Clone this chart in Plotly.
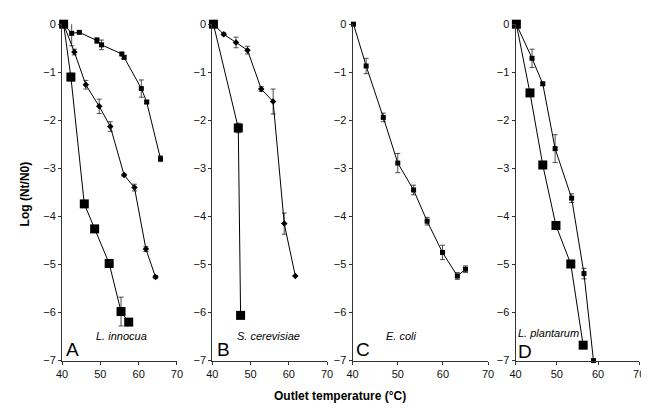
import plotly.graph_objects as go

# ---------------- data ----------------
# Panel A: L. innocua
a1_x = [40.4, 42.5, 44.5, 49.1, 50.3, 55.6, 56.2, 60.7, 62.1, 65.7]
a1_y = [0.0, -0.19, -0.17, -0.34, -0.43, -0.62, -0.69, -1.34, -1.62, -2.80]
a1_e = [0.0, 0.26, 0.0, 0.06, 0.10, 0.03, 0.03, 0.18, 0.03, 0.06]
a2_x = [40.4, 43.2, 46.2, 49.7, 52.6, 56.2, 58.9, 61.9, 64.4]
a2_y = [0.0, -0.58, -1.26, -1.71, -2.13, -3.14, -3.40, -4.68, -5.26]
a2_e = [0.0, 0.06, 0.09, 0.15, 0.10, 0.02, 0.07, 0.05, 0.03]
a3_x = [40.4, 42.3, 45.8, 48.5, 52.3, 55.4, 57.4]
a3_y = [0.0, -1.10, -3.74, -4.26, -4.98, -5.98, -6.20]
a3_e = [0.0, 0.08, 0.0, 0.06, 0.03, 0.30, 0.0]

# Panel B: S. cerevisiae
b1_x = [40.3, 43.0, 46.2, 49.2, 52.8, 55.9, 58.8, 61.7]
b1_y = [0.0, -0.21, -0.38, -0.54, -1.35, -1.61, -4.15, -5.24]
b1_e = [0.0, 0.03, 0.11, 0.08, 0.05, 0.26, 0.22, 0.0]
b2_x = [40.3, 46.8, 47.4]
b2_y = [0.0, -2.16, -6.06]
b2_e = [0.0, 0.10, 0.0]

# Panel C: E. coli
c1_x = [40.2, 43.0, 46.8, 50.0, 53.5, 56.5, 59.9, 63.2, 65.0]
c1_y = [0.0, -0.87, -1.94, -2.89, -3.45, -4.10, -4.75, -5.24, -5.10]
c1_e = [0.0, 0.16, 0.09, 0.20, 0.10, 0.08, 0.15, 0.07, 0.07]

# Panel D: L. plantarum
d1_x = [40.2, 44.0, 46.6, 49.6, 53.6, 56.6, 58.9]
d1_y = [0.0, -0.71, -1.24, -2.59, -3.62, -5.19, -7.0]
d1_e = [0.0, 0.19, 0.03, 0.29, 0.09, 0.11, 0.0]
d2_x = [40.2, 43.5, 46.6, 49.8, 53.4, 56.4]
d2_y = [0.0, -1.43, -2.93, -4.19, -4.99, -6.68]
d2_e = [0.0, 0.04, 0.06, 0.0, 0.03, 0.0]

x_ticks = [40, 50, 60, 70]
y_ticks = [0, -1, -2, -3, -4, -5, -6, -7]
panel_letters = ["A", "B", "C", "D"]
species = ["L. innocua", "S. cerevisiae", "E. coli", "L. plantarum"]

# ---------------- layout geometry ----------------
W, H = 649, 410
px_domains = [(49, 166), (202, 319), (345, 483), (511, 637)]
y_top, y_bot = 10.5, 357

fig = go.Figure()

series = [
    (1, a1_x, a1_y, a1_e, "square", 5),
    (1, a2_x, a2_y, a2_e, "diamond", 5),
    (1, a3_x, a3_y, a3_e, "square", 9),
    (2, b1_x, b1_y, b1_e, "diamond", 5),
    (2, b2_x, b2_y, b2_e, "square", 9),
    (3, c1_x, c1_y, c1_e, "square", 5),
    (4, d1_x, d1_y, d1_e, "square", 5),
    (4, d2_x, d2_y, d2_e, "square", 9),
]

for idx, xs, ys, es, sym, size in series:
    sfx = "" if idx == 1 else str(idx)
    fig.add_trace(go.Scatter(
        x=xs, y=ys, mode="lines+markers",
        xaxis="x" + sfx, yaxis="y" + sfx,
        line=dict(color="black", width=1),
        marker=dict(symbol=sym, size=size, color="black"),
        error_y=dict(type="data", array=es, visible=True,
                     color="#222", thickness=0.8, width=2.5),
        cliponaxis=False, showlegend=False,
    ))

axis_common = dict(showgrid=False, zeroline=False, showline=True,
                   linecolor="#333", linewidth=1, ticks="outside",
                   ticklen=3, tickcolor="#333",
                   tickfont=dict(family="Liberation Sans, Arial", size=11, color="#111"))

layout = dict(width=W, height=H, margin=dict(l=0, r=0, t=0, b=0),
              plot_bgcolor="white", paper_bgcolor="white", showlegend=False)

ydom = [1 - y_bot / H, 1 - y_top / H]
for i, (x0, x1) in enumerate(px_domains):
    sfx = "" if i == 0 else str(i + 1)
    layout["xaxis" + sfx] = dict(axis_common, domain=[x0 / W, x1 / W], range=[40, 70],
                                 tickvals=x_ticks, anchor="y" + sfx)
    layout["yaxis" + sfx] = dict(axis_common, domain=ydom, range=[-7, 0],
                                 tickvals=y_ticks, anchor="x" + sfx)

fig.update_layout(**layout)

annotations = []
letter_px = [60, 213, 356, 521]
letter_py = [346, 346, 346, 348]
species_px = [110, 259, 395, 545]
species_py = [332, 332, 332, 329]
for i in range(4):
    annotations.append(dict(x=letter_px[i] / W, y=1 - letter_py[i] / H, xref="paper", yref="paper",
                            text=panel_letters[i], showarrow=False,
                            font=dict(family="Liberation Sans, Arial", size=19, color="black"),
                            xanchor="center", yanchor="middle"))
    annotations.append(dict(x=species_px[i] / W, y=1 - species_py[i] / H, xref="paper", yref="paper",
                            text="<i>" + species[i] + "</i>", showarrow=False,
                            font=dict(family="Liberation Sans, Arial", size=11, color="black"),
                            xanchor="center", yanchor="middle"))

annotations.append(dict(x=332 / W, y=1 - 394 / H, xref="paper", yref="paper",
                        text="<b>Outlet temperature (°C)</b>", showarrow=False,
                        font=dict(family="Liberation Sans, Arial", size=12, color="black"),
                        xanchor="center", yanchor="middle"))
annotations.append(dict(x=11 / W, y=1 - 185 / H, xref="paper", yref="paper",
                        text="<b>Log (Nt/N0)</b>", showarrow=False, textangle=-90,
                        font=dict(family="Liberation Sans, Arial", size=12, color="black"),
                        xanchor="center", yanchor="middle"))
fig.update_layout(annotations=annotations)

fig.write_html("out.html")
